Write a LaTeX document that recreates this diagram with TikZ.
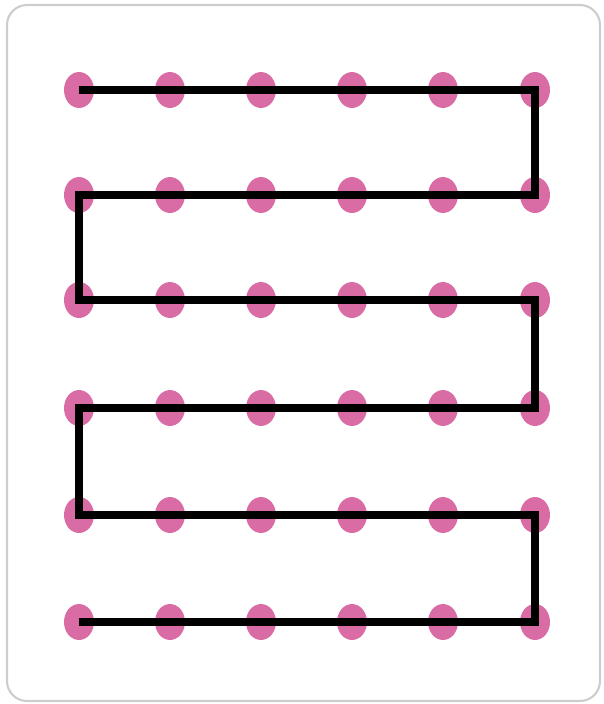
\documentclass[tikz,border=0pt]{standalone}
\usepackage{tikz}
\usetikzlibrary{shapes.geometric}
\definecolor{DotPink}{RGB}{218,108,165}
\definecolor{FrameGray}{RGB}{205,205,205}

\begin{document}
\begin{tikzpicture}[x=0.02cm, y=-0.02cm,
	pdot/.style={ellipse, fill=DotPink, minimum width=0.6cm, minimum height=0.72cm, inner sep=0pt},
	trail/.style={line width=4.2pt, black}]
	\useasboundingbox (0,0) rectangle (603,704);
	% marco
	\draw[FrameGray, line width=1.2pt, rounded corners=0.4cm] (7,5) rectangle (600,701);
	% puntos
	\foreach \r/\y in {1/90, 2/195, 3/300, 4/408, 5/515, 6/622}
		\foreach \c/\x in {1/79, 2/170, 3/261, 4/352, 5/443, 6/535}
			{\node[pdot] (p\r\c) at (\x,\y) {};}
	% recorrido en zigzag
	\draw[trail] (p11.center) -- (p16.center) -- (p26.center) -- (p21.center)
		-- (p31.center) -- (p36.center) -- (p46.center) -- (p41.center)
		-- (p51.center) -- (p56.center) -- (p66.center) -- (p61.center);
\end{tikzpicture}
\end{document}
